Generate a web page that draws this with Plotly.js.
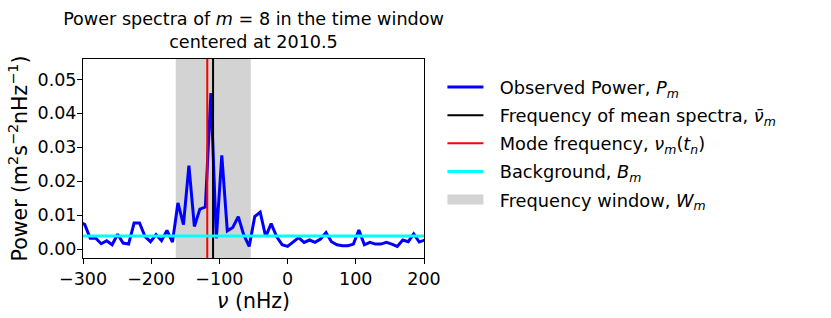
<!DOCTYPE html>
<html>
<head>
<meta charset="utf-8">
<script src="https://cdn.plot.ly/plotly-3.0.1.min.js"></script>
<style>html,body{margin:0;padding:0;background:#fff;}</style>
</head>
<body>
<div id="chart" style="width:831px;height:318px;"></div>
<script>
// Frequency grid (nHz)
const freq = [-305.5,-297.5,-289.4,-281.4,-273.3,-265.3,-257.3,-249.2,-241.2,-233.1,
  -225.1,-217.1,-209.0,-201.0,-192.9,-184.9,-176.9,-168.8,-160.8,-152.7,
  -144.7,-136.7,-128.6,-120.6,-112.5,-104.5,-96.5,-88.4,-80.4,-72.3,
  -64.3,-56.3,-48.2,-40.2,-32.1,-24.1,-16.1,-8.0,0.0,8.1,
  16.1,24.1,32.2,40.2,48.3,56.3,64.3,72.4,80.4,88.5,
  96.5,104.5,112.6,120.6,128.7,136.7,144.7,152.8,160.8,168.9,
  176.9,184.9,193.0,201.0];
// Observed power P_m (m^2 s^-2 nHz^-1)
const power = [0.0080,0.0073,0.0032,0.0032,0.0016,0.0025,0.0013,0.0044,0.0018,0.0015,
  0.0077,0.0077,0.0037,0.0022,0.0043,0.0025,0.0055,0.0021,0.0136,0.0072,
  0.0246,0.0067,0.0118,0.0124,0.0460,0.0032,0.0276,0.0054,0.0064,0.0096,
  0.0042,0.0008,0.0096,0.0109,0.0037,0.0075,0.0037,0.0013,0.0008,0.0022,
  0.0034,0.0020,0.0027,0.0020,0.0030,0.0049,0.0022,0.0013,0.0010,0.0010,
  0.0015,0.0056,0.0013,0.0020,0.0015,0.0015,0.0020,0.0015,0.0008,0.0027,
  0.0022,0.0045,0.0021,0.0027];
const meanFreq = -109.3;      // mean spectra frequency
const modeFreq = -117.8;      // mode frequency nu_m(t_n)
const background = 0.0039;    // B_m
const windowRange = [-164, -54]; // W_m
const xRange = [-300, 200];
const yRange = [-0.0026, 0.056];
const xTicks = [-300, -200, -100, 0, 100, 200];
const xTickText = ['\u2212300', '\u2212200', '\u2212100', '0', '100', '200'];
const yTicks = [0, 0.01, 0.02, 0.03, 0.04, 0.05];
const yTickText = ['0.00', '0.01', '0.02', '0.03', '0.04', '0.05'];

const FONT = 'DejaVu Sans';
const GAP = '&nbsp;&nbsp;';
const traces = [
  {x: freq, y: power, type: 'scatter', mode: 'lines',
   line: {color: '#0000ff', width: 3}, name: GAP + 'Observed Power, <i>P</i><sub><i>m</i></sub>',
   legendrank: 1, legendgroup: 'a'},
  {x: [meanFreq, meanFreq], y: [yRange[0]-1, yRange[1]+1], type: 'scatter', mode: 'lines',
   line: {color: '#000000', width: 2}, name: GAP + 'Frequency of mean spectra, <i>\u03BD\u0304</i><sub><i>m</i></sub>',
   legendrank: 2, legendgroup: 'b'},
  {x: [modeFreq, modeFreq], y: [yRange[0]-1, yRange[1]+1], type: 'scatter', mode: 'lines',
   line: {color: '#ff0000', width: 2}, name: GAP + 'Mode frequency, <i>\u03BD</i><sub><i>m</i></sub>(<i>t</i><sub><i>n</i></sub>)',
   legendrank: 3, legendgroup: 'c'},
  {x: xRange, y: [background, background], type: 'scatter', mode: 'lines',
   line: {color: '#00ffff', width: 3}, name: GAP + 'Background, <i>B</i><sub><i>m</i></sub>',
   legendrank: 4, legendgroup: 'd'},
  // legend entry for the frequency window (the window itself is the shape below)
  {x: [null], y: [null], type: 'scatter', mode: 'lines',
   line: {color: '#d3d3d3', width: 13}, name: GAP + 'Frequency window, <i>W</i><sub><i>m</i></sub>',
   legendrank: 5, legendgroup: 'e'}
];

const axisCommon = {
  showgrid: false, zeroline: false, showline: true, mirror: true,
  linecolor: '#000', linewidth: 1, ticks: 'outside', ticklen: 5, tickwidth: 1,
  tickcolor: '#000', tickfont: {family: FONT, size: 17.5, color: '#000'}
};

const layout = {
  width: 831, height: 318,
  margin: {l: 83, r: 407, t: 59, b: 60, pad: 0},
  paper_bgcolor: '#fff', plot_bgcolor: '#fff',
  font: {family: FONT, size: 17.5, color: '#000'},
  title: {text: 'Power spectra of <i>m</i> = 8 in the time window<br>centered at 2010.5',
    x: 0.5, xref: 'paper', xanchor: 'center', y: 0.92, yref: 'container', yanchor: 'top',
    font: {family: FONT, size: 17.6, color: '#000'}},
  xaxis: Object.assign({}, axisCommon, {range: xRange, tickvals: xTicks, ticktext: xTickText,
    title: {text: '<i>\u03BD</i> (nHz)', font: {family: FONT, size: 20.5}, standoff: 2}}),
  yaxis: Object.assign({}, axisCommon, {range: yRange, tickvals: yTicks, ticktext: yTickText,
    ticklabelstandoff: -3,
    title: {text: 'Power (m<sup>2</sup>s<sup>\u22122</sup>nHz<sup>\u22121</sup>)', font: {family: FONT, size: 20.5}, standoff: 4}}),
  shapes: [{type: 'rect', xref: 'x', yref: 'paper', x0: windowRange[0], x1: windowRange[1], y0: 0, y1: 1,
    fillcolor: '#d3d3d3', line: {width: 0}, layer: 'below'}],
  showlegend: true,
  legend: {x: 1.054, xanchor: 'left', y: 0.95, yanchor: 'top', traceorder: 'grouped',
    tracegroupgap: 2, itemwidth: 36, font: {family: FONT, size: 17.8, color: '#000'},
    bgcolor: 'rgba(0,0,0,0)', borderwidth: 0}
};

Plotly.newPlot('chart', traces, layout, {displayModeBar: false, staticPlot: true});
</script>
</body>
</html>
